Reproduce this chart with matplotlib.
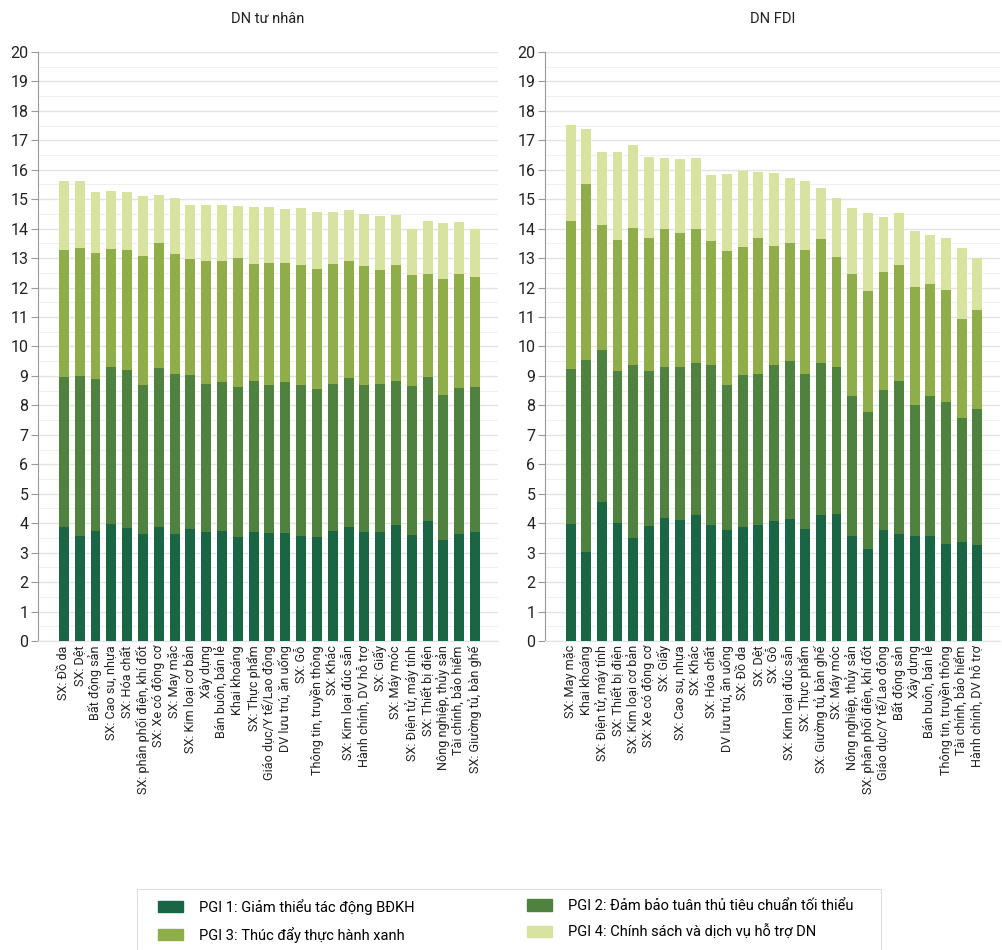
import matplotlib
matplotlib.use("Agg")
import matplotlib.pyplot as plt
from matplotlib.patches import Patch, Rectangle
import numpy as np

plt.rcParams['font.family'] = ['Roboto', 'DejaVu Sans']

# --- data -------------------------------------------------------------
tn_labels = ['SX: Đồ da', 'SX: Dệt', 'Bất động sản', 'SX: Cao su, nhựa', 'SX: Hóa chất',
             'SX: phân phối điện, khí đốt', 'SX: Xe có động cơ', 'SX: May mặc',
             'SX: Kim loại cơ bản', 'Xây dựng', 'Bán buôn, bán lẻ', 'Khai khoáng',
             'SX: Thực phẩm', 'Giáo dục/Y tế/Lao động', 'DV lưu trú, ăn uống', 'SX: Gỗ',
             'Thông tin, truyền thông', 'SX: Khác', 'SX: Kim loại đúc sẵn',
             'Hành chính, DV hỗ trợ', 'SX: Giấy', 'SX: Máy móc', 'SX: Điện tử, máy tính',
             'SX: Thiết bị điện', 'Nông nghiệp, thủy sản', 'Tài chính, bảo hiểm',
             'SX: Giường tủ, bàn ghế']
# cumulative tops
tn_c1 = [3.88, 3.57, 3.74, 3.98, 3.84, 3.64, 3.88, 3.64, 3.81, 3.70, 3.74, 3.53, 3.70, 3.67,
         3.67, 3.57, 3.53, 3.74, 3.88, 3.70, 3.70, 3.94, 3.60, 4.08, 3.43, 3.64, 3.70]
tn_c2 = [8.95, 8.99, 8.89, 9.30, 9.19, 8.68, 9.26, 9.06, 9.02, 8.72, 8.78, 8.61, 8.82, 8.68,
         8.78, 8.68, 8.55, 8.72, 8.92, 8.68, 8.72, 8.82, 8.65, 8.95, 8.34, 8.58, 8.61]
tn_c3 = [13.28, 13.35, 13.18, 13.32, 13.28, 13.08, 13.52, 13.15, 12.98, 12.91, 12.91, 13.01,
         12.81, 12.84, 12.84, 12.77, 12.64, 12.81, 12.91, 12.74, 12.60, 12.77, 12.43, 12.47,
         12.30, 12.47, 12.36]
tn_c4 = [15.63, 15.63, 15.25, 15.29, 15.25, 15.12, 15.15, 15.05, 14.81, 14.81, 14.81, 14.78,
         14.75, 14.75, 14.68, 14.71, 14.58, 14.58, 14.64, 14.51, 14.44, 14.47, 14.00, 14.27,
         14.20, 14.24, 14.00]

fdi_labels = ['SX: May mặc', 'Khai khoáng', 'SX: Điện tử, máy tính', 'SX: Thiết bị điện',
              'SX: Kim loại cơ bản', 'SX: Xe có động cơ', 'SX: Giấy', 'SX: Cao su, nhựa',
              'SX: Khác', 'SX: Hóa chất', 'DV lưu trú, ăn uống', 'SX: Đồ da', 'SX: Dệt',
              'SX: Gỗ', 'SX: Kim loại đúc sẵn', 'SX: Thực phẩm', 'SX: Giường tủ, bàn ghế',
              'SX: Máy móc', 'Nông nghiệp, thủy sản', 'SX: phân phối điện, khí đốt',
              'Giáo dục/Y tế/Lao động', 'Bất động sản', 'Xây dựng', 'Bán buôn, bán lẻ',
              'Thông tin, truyền thông', 'Tài chính, bảo hiểm', 'Hành chính, DV hỗ trợ']
fdi_c1 = [3.98, 3.02, 4.73, 4.01, 3.50, 3.91, 4.18, 4.11, 4.28, 3.94, 3.77, 3.88, 3.94, 4.08,
          4.15, 3.81, 4.28, 4.32, 3.57, 3.13, 3.77, 3.64, 3.57, 3.57, 3.30, 3.36, 3.26]
fdi_c2 = [9.24, 9.55, 9.89, 9.17, 9.38, 9.17, 9.31, 9.31, 9.44, 9.38, 8.69, 9.03, 9.07, 9.38,
          9.51, 9.07, 9.44, 9.31, 8.32, 7.77, 8.52, 8.83, 8.01, 8.32, 8.11, 7.56, 7.87]
fdi_c3 = [14.25, 15.50, 14.11, 13.60, 14.01, 13.67, 13.98, 13.84, 13.98, 13.57, 13.23, 13.37,
          13.67, 13.40, 13.53, 13.26, 13.64, 13.03, 12.45, 11.89, 12.52, 12.75, 12.02, 12.12,
          11.92, 10.93, 11.24]
fdi_c4 = [17.51, 17.37, 16.59, 16.59, 16.83, 16.42, 16.39, 16.35, 16.39, 15.82, 15.84, 15.95,
          15.91, 15.88, 15.71, 15.61, 15.37, 15.03, 14.69, 14.52, 14.38, 14.52, 13.91, 13.77,
          13.67, 13.33, 12.99]

series = ['PGI 1: Giảm thiểu tác động BĐKH', 'PGI 2: Đảm bảo tuân thủ tiêu chuẩn tối thiểu',
          'PGI 3: Thúc đẩy thực hành xanh', 'PGI 4: Chính sách và dịch vụ hỗ trợ DN']
colors = ['#1a6544', '#4e823e', '#8fae4a', '#d9e3a0']

W, H = 1002, 950


def draw(ax, labels, c1, c2, c3, c4, title):
    x = np.arange(len(labels))
    tops = [np.array(c1), np.array(c2), np.array(c3), np.array(c4)]
    bottom = np.zeros(len(labels))
    for top, col in zip(tops, colors):
        ax.bar(x, top - bottom, bottom=bottom, width=0.63, color=col, zorder=3)
        bottom = top
    ax.set_ylim(0, 20)
    ax.set_yticks(range(0, 21))
    ax.set_yticks(np.arange(0.5, 20, 1), minor=True)
    ax.grid(axis='y', which='major', color='#e3e3e3', lw=1.0, zorder=0)
    ax.grid(axis='y', which='minor', color='#efefef', lw=0.8, zorder=0)
    ax.set_xlim(-1.63, len(labels) + 0.45)
    ax.set_xticks(x)
    ax.set_xticklabels(labels, rotation=90, fontsize=9.1, color='#222222')
    ax.tick_params(axis='x', length=0, pad=3)
    ax.tick_params(axis='y', which='major', length=5, color='#9a9a9a', labelsize=11.5,
                   labelcolor='#222222', pad=2)
    ax.tick_params(axis='y', which='minor', length=0)
    for s in ['top', 'right']:
        ax.spines[s].set_visible(False)
    ax.spines['left'].set_color('#9a9a9a')
    ax.spines['bottom'].set_color('#e3e3e3')
    ax.set_title(title, fontsize=10.5, color='#222222', pad=21)


fig = plt.figure(figsize=(W / 100, H / 100), dpi=100)
ax1 = fig.add_axes([0.038, 0.3253, 0.459, 0.62])
ax2 = fig.add_axes([0.544, 0.3253, 0.454, 0.62])
draw(ax1, tn_labels, tn_c1, tn_c2, tn_c3, tn_c4, 'DN tư nhân')
draw(ax2, fdi_labels, fdi_c1, fdi_c2, fdi_c3, fdi_c4, 'DN FDI')

# legend: frame + two columns
fig.patches.append(Rectangle((137 / W, -0.01), (881 - 137) / W, 0.01 + 1 - 889 / H,
                             transform=fig.transFigure, fill=False, edgecolor='#dddddd',
                             lw=0.8))
handles = [Patch(color=c) for c in colors]
for cols, xpx in (([0, 2], 158), ([1, 3], 527)):
    fig.legend([handles[i] for i in cols], [series[i] for i in cols], ncol=1,
               loc='upper left', bbox_to_anchor=(xpx / W, 1 - 899 / H),
               frameon=False, fontsize=10.5, handlelength=1.7, handleheight=0.8,
               handletextpad=1.1, labelspacing=0.8, borderpad=0, borderaxespad=0)

fig.savefig('out.png', dpi=100)
